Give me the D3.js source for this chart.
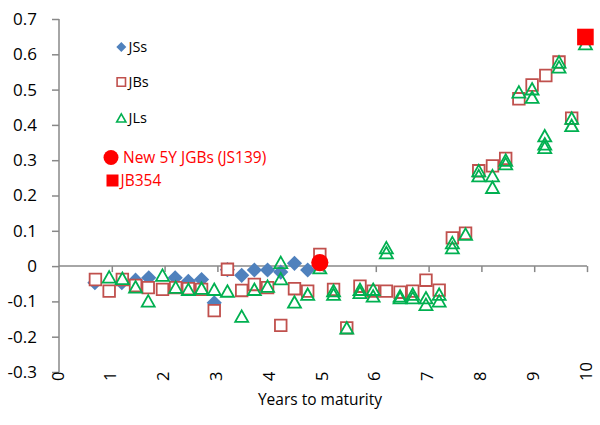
<!DOCTYPE html>
<html>
<head>
<meta charset="utf-8">
<script src="https://cdn.jsdelivr.net/npm/d3@7/dist/d3.min.js"></script>
<style>
  html, body { margin: 0; padding: 0; background: #fff; }
  svg { display: block; font-family: "Open Sans", "Liberation Sans", sans-serif; }
</style>
</head>
<body>
<svg id="chart" width="600" height="425"></svg>
<script>
// Spread (percentage points) versus years to maturity, by JGB issue type
const jssYears  = [0.68, 1.19, 1.45, 1.70, 2.20, 2.45, 2.70, 2.94, 3.19, 3.46, 3.70, 3.95, 4.20, 4.46, 4.71];
const jssSpread = [-0.047, -0.047, -0.040, -0.033, -0.033, -0.043, -0.038, -0.104, -0.010, -0.026, -0.011, -0.011, -0.017, 0.008, -0.011];

const jbsYears  = [0.69, 0.95, 1.20, 1.45, 1.69, 1.96, 2.21, 2.45, 2.70, 2.94, 3.19, 3.46, 3.70, 3.95, 4.20, 4.46, 4.71, 4.94,
                   5.20, 5.45, 5.70, 5.95, 6.20, 6.46, 6.70, 6.95, 7.20, 7.45, 7.70, 7.95, 8.21, 8.46, 8.71, 8.96, 9.22, 9.47, 9.71];
const jbsSpread = [-0.038, -0.071, -0.038, -0.055, -0.061, -0.066, -0.061, -0.064, -0.066, -0.126, -0.009, -0.069, -0.052, -0.061, -0.168, -0.064, -0.071, 0.033,
                   -0.066, -0.175, -0.057, -0.071, -0.071, -0.074, -0.071, -0.040, -0.068, 0.080, 0.093, 0.270, 0.284, 0.305, 0.474, 0.513, 0.540, 0.578, 0.419];

const jlsYears  = [0.95, 1.20, 1.45, 1.69, 1.96, 2.21, 2.45, 2.70, 2.94, 3.19, 3.46, 3.70, 3.95, 4.20, 4.20, 4.46, 4.71, 4.94,
                   5.20, 5.20, 5.45, 5.70, 5.70, 5.95, 5.95, 6.20, 6.20, 6.46, 6.46, 6.70, 6.70, 6.95, 6.95, 7.20, 7.20,
                   7.45, 7.45, 7.70, 7.95, 7.95, 8.21, 8.21, 8.46, 8.46, 8.71, 8.96, 8.96, 9.20, 9.20, 9.20, 9.47, 9.47, 9.71, 9.71, 9.97];
const jlsSpread = [-0.031, -0.035, -0.059, -0.099, -0.026, -0.060, -0.066, -0.063, -0.066, -0.071, -0.142, -0.066, -0.057, 0.010, -0.036, -0.102, -0.080, -0.005,
                   -0.070, -0.080, -0.175, -0.066, -0.075, -0.066, -0.085, 0.052, 0.038, -0.085, -0.090, -0.080, -0.090, -0.090, -0.109, -0.080, -0.099,
                   0.066, 0.052, 0.090, 0.270, 0.256, 0.256, 0.223, 0.300, 0.290, 0.493, 0.502, 0.478, 0.369, 0.346, 0.336, 0.578, 0.564, 0.419, 0.398, 0.630];

// Highlighted issues
const newFiveYear = { label: "New 5Y JGBs (JS139)", year: 4.94, spread: 0.010 };
const jb354       = { label: "JB354", year: 9.97, spread: 0.649 };

const xTicks = [0, 1, 2, 3, 4, 5, 6, 7, 8, 9, 10];
const yTicks = [-0.3, -0.2, -0.1, 0, 0.1, 0.2, 0.3, 0.4, 0.5, 0.6, 0.7];
const yTickLabels = ["-0.3", "-0.2", "-0.1", "0", "0.1", "0.2", "0.3", "0.4", "0.5", "0.6", "0.7"];
const xTitle = "Years to maturity";

const colors = { jss: "#4F81BD", jbs: "#C0504D", jls: "#00B050", hi: "#FF0000", axis: "#888888" };

const svg = d3.select("#chart");
const x = d3.scaleLinear().domain([0, 10]).range([59, 587]);
const y = d3.scaleLinear().domain([-0.3, 0.7]).range([372, 19]);

// Marker shapes (centered on the origin)
const diamond  = r => `M0,${-r}L${r},0L0,${r}L${-r},0Z`;
const square   = h => `M${-h},${-h}H${h}V${h}H${-h}Z`;
const triangle = h => `M0,${-h}L${h * 1.1},${h * 0.95}L${-h * 1.1},${h * 0.95}Z`;

// Y axis: line with outward ticks on the left
const yAxis = svg.append("g").attr("transform", `translate(${x(0)},0)`)
  .call(d3.axisLeft(y).tickValues(yTicks).tickSize(7).tickFormat((d, i) => yTickLabels[i]));
yAxis.select(".domain").attr("d", `M0,${y(0.7)}V${y(-0.3)}`);
yAxis.selectAll("line, .domain").attr("stroke", colors.axis).attr("stroke-width", 1.5);
yAxis.selectAll("text").attr("x", -22).attr("font-size", 17).attr("fill", "#000")
  .attr("font-family", "'Open Sans', sans-serif");

// X axis drawn along the zero line with downward ticks
const xAxis = svg.append("g").attr("transform", `translate(0,${y(0)})`)
  .call(d3.axisBottom(x).tickValues(xTicks.filter(t => t > 0)).tickSize(6).tickFormat(""));
xAxis.select(".domain").attr("d", `M${x(0)},0H${x(10)}`);
xAxis.selectAll("line, .domain").attr("stroke", colors.axis).attr("stroke-width", 1.5);

// Rotated year labels below the plot
svg.append("g").selectAll("text").data(xTicks).join("text")
  .attr("transform", d => `translate(${x(d) - 2},381) rotate(-90)`)
  .attr("text-anchor", "start")
  .attr("dominant-baseline", "central")
  .attr("font-size", 16.5)
  .text(d => d);

svg.append("text")
  .attr("x", 320).attr("y", 405)
  .attr("text-anchor", "middle")
  .attr("font-size", 15.5)
  .text(xTitle);

// Series
const plot = svg.append("g");

plot.append("g").selectAll("path").data(d3.zip(jssYears, jssSpread)).join("path")
  .attr("transform", d => `translate(${x(d[0])},${y(d[1])})`)
  .attr("d", diamond(7.6))
  .attr("fill", colors.jss);

plot.append("g").selectAll("path").data(d3.zip(jbsYears, jbsSpread)).join("path")
  .attr("transform", d => `translate(${x(d[0])},${y(d[1])})`)
  .attr("d", square(5.8))
  .attr("fill", "#fff")
  .attr("stroke", colors.jbs).attr("stroke-width", 1.8);

plot.append("g").selectAll("path").data(d3.zip(jlsYears, jlsSpread)).join("path")
  .attr("transform", d => `translate(${x(d[0])},${y(d[1])})`)
  .attr("d", triangle(5.9))
  .attr("fill", "none")
  .attr("stroke", colors.jls).attr("stroke-width", 1.8);

plot.append("circle")
  .attr("cx", x(newFiveYear.year)).attr("cy", y(newFiveYear.spread)).attr("r", 8.6)
  .attr("fill", colors.hi);

plot.append("path")
  .attr("transform", `translate(${x(jb354.year)},${y(jb354.spread)})`)
  .attr("d", square(8.3))
  .attr("fill", colors.hi);

// Legend
const legend = svg.append("g");
const items = [
  { label: "JSs", cy: 47,  draw: g => g.append("path").attr("d", diamond(5)).attr("fill", colors.jss) },
  { label: "JBs", cy: 82,  draw: g => g.append("path").attr("d", square(4.2)).attr("fill", "#fff").attr("stroke", colors.jbs).attr("stroke-width", 1.6) },
  { label: "JLs", cy: 118, draw: g => g.append("path").attr("d", triangle(4.2)).attr("fill", "none").attr("stroke", colors.jls).attr("stroke-width", 1.6) }
];
items.forEach(it => {
  const g = legend.append("g").attr("transform", `translate(121.3,${it.cy})`);
  it.draw(g);
  legend.append("text").attr("x", 128.5).attr("y", it.cy + 5.2)
    .attr("font-size", 14.5).text(it.label);
});

legend.append("circle").attr("cx", 111).attr("cy", 157.5).attr("r", 7.5).attr("fill", colors.hi);
legend.append("text").attr("x", 123).attr("y", 163.3).attr("font-size", 15.5)
  .attr("fill", colors.hi).text(newFiveYear.label);

legend.append("path").attr("transform", "translate(112.5,180.5)").attr("d", square(6)).attr("fill", colors.hi);
legend.append("text").attr("x", 120.5).attr("y", 185.8).attr("font-size", 15.5)
  .attr("fill", colors.hi).text(jb354.label);
</script>
</body>
</html>
